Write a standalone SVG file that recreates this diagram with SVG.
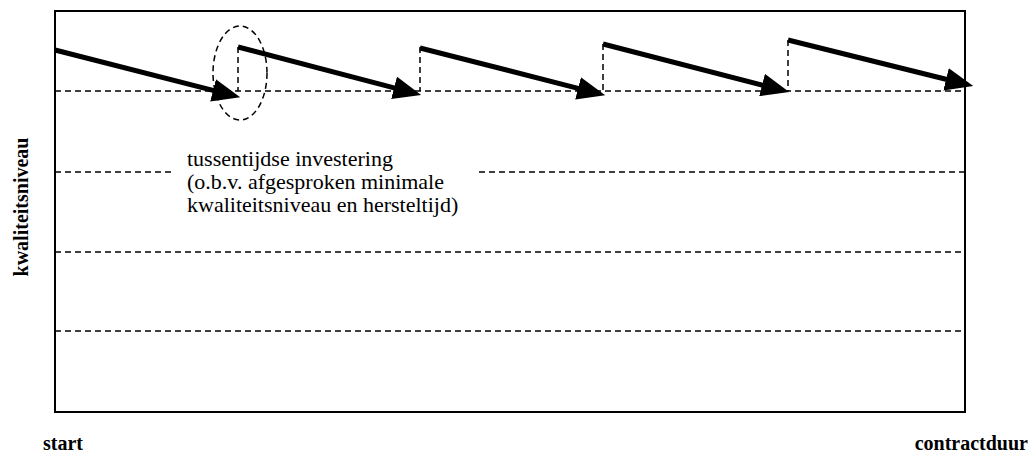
<svg xmlns="http://www.w3.org/2000/svg" width="1031" height="459" viewBox="0 0 1031 459">
<style>
.frame{fill:none;stroke:#000;stroke-width:2}
.dash{fill:none;stroke:#000;stroke-width:1.5;stroke-dasharray:6 4}
.saw{fill:none;stroke:#000;stroke-width:5;marker-end:url(#head)}
text{font-family:'Liberation Serif','Times New Roman','DejaVu Serif',serif;fill:#000}
.b{font-weight:bold;font-size:20px}
.t{font-size:22px}
</style>
<defs>
<marker id="head" markerUnits="userSpaceOnUse" markerWidth="28" markerHeight="23" refX="2" refY="11.5" orient="auto" viewBox="0 0 28 23">
<path d="M0,0 L28,11.5 L0,23 Z" fill="#000"/>
</marker>
</defs>
<rect class="frame" x="55" y="11" width="910" height="401"/>
<g id="levels">
<line class="dash" x1="55" y1="91" x2="965" y2="91"/>
<line class="dash" x1="55" y1="172" x2="173" y2="172"/>
<line class="dash" x1="479" y1="172" x2="965" y2="172"/>
<line class="dash" x1="55" y1="252" x2="965" y2="252"/>
<line class="dash" x1="55" y1="331" x2="965" y2="331"/>
</g>
<g id="connectors">
<line class="dash" x1="238" y1="47" x2="238" y2="91"/>
<line class="dash" x1="420" y1="47" x2="420" y2="91"/>
<line class="dash" x1="603" y1="44" x2="603" y2="91"/>
<line class="dash" x1="788" y1="40" x2="788" y2="91"/>
<line class="saw" x1="55" y1="50" x2="215" y2="90.8"/>
<line class="saw" x1="238" y1="47" x2="396" y2="88.3"/>
<line class="saw" x1="420" y1="48" x2="580" y2="88.8"/>
<line class="saw" x1="603" y1="44" x2="764" y2="85.5"/>
<line class="saw" x1="788" y1="40" x2="948" y2="79.8"/>
</g>
<g id="highlight">
<ellipse class="dash" cx="240" cy="73" rx="27" ry="47"/>
</g>
<g id="annotation">
<text class="t" x="187" y="166">tussentijdse investering</text>
<text class="t" x="187" y="189">(o.b.v. afgesproken minimale</text>
<text class="t" x="187" y="212">kwaliteitsniveau en hersteltijd)</text>
</g>
<g id="axis-labels">
<text class="b" x="43" y="450">start</text>
<text class="b" x="1028" y="450" text-anchor="end">contractduur</text>
<text class="b" text-anchor="middle" transform="translate(28,207) rotate(-90)">kwaliteitsniveau</text>
</g>
</svg>
